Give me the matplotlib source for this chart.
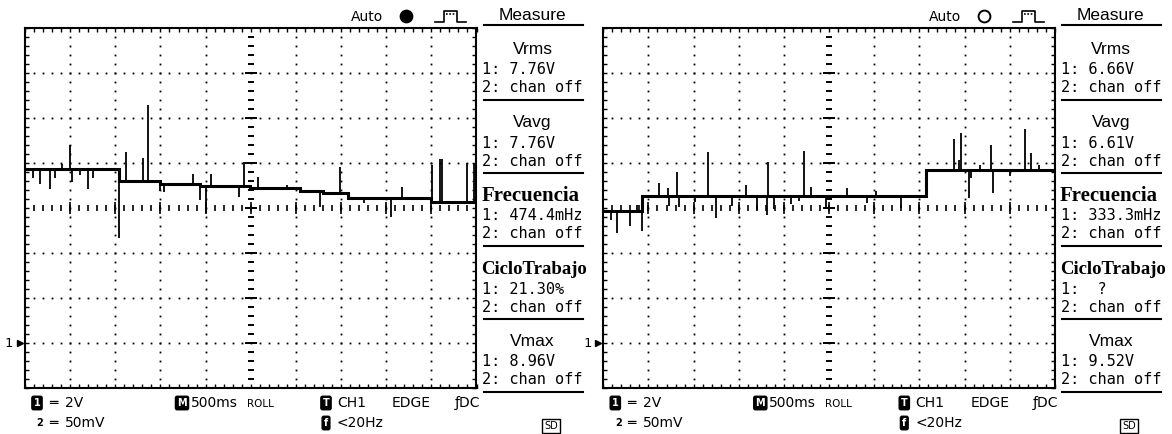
import numpy as np
import matplotlib
matplotlib.use("Agg")
from matplotlib import pyplot as plt
from matplotlib.transforms import blended_transform_factory

# Values read off the two scope captures (time in s, level in V, 2 V/div, 500 ms/div)
# left capture
left_step_t = [0.0, 1.04, 1.50, 1.94, 2.49, 3.05, 3.30, 3.58, 4.50]
left_step_v = [7.73, 7.23, 7.10, 6.99, 6.89, 6.77, 6.70, 6.44, 6.30]
left_spike_t = [0.089, 0.166, 0.277, 0.333, 0.41, 0.499, 0.515, 0.61, 0.70, 0.754,
                1.042, 1.12, 1.31, 1.364, 1.497, 1.541, 1.863, 1.94, 2.007, 2.062,
                2.37, 2.428, 2.583, 2.905, 3.27, 3.49, 3.75, 4.05, 4.18, 4.51,
                4.60, 4.617, 4.90, 4.967]
left_spike_v = [7.35, 7.08, 6.86, 7.35, 7.97, 8.81, 7.18, 7.48, 6.86, 7.35,
                4.68, 8.50, 8.24, 10.59, 6.77, 6.74, 7.52, 6.37, 5.80, 7.52,
                6.52, 8.07, 7.39, 7.04, 6.07, 7.85, 6.24, 5.63, 6.96, 7.92,
                8.19, 8.19, 8.01, 8.01]
left_meas = ["7.76V", "7.76V", "474.4mHz", "21.30%", "8.96V"]

# right capture
right_step_t = [0.0, 0.431, 3.577]
right_step_v = [5.88, 6.55, 7.72]
right_spike_t = [0.082, 0.155, 0.295, 0.37, 0.431, 0.616, 0.719, 0.732, 0.819, 0.841,
                 1.014, 1.161, 1.243, 1.42, 1.579, 1.697, 1.808, 1.819, 1.892, 2.084,
                 2.168, 2.223, 2.305, 2.471, 2.699, 2.925, 3.017, 3.30, 3.879, 3.938,
                 3.965, 4.049, 4.075, 4.167, 4.289, 4.314, 4.499, 4.673, 4.739, 4.83]
right_spike_v = [5.48, 4.92, 5.23, 6.15, 4.99, 7.14, 6.89, 6.12, 7.60, 6.04,
                 6.29, 8.49, 5.56, 6.10, 7.04, 5.92, 5.70, 8.07, 5.97, 6.19,
                 6.32, 8.56, 6.96, 5.97, 6.89, 6.22, 6.78, 6.00, 9.07, 8.15,
                 9.36, 6.44, 7.35, 7.92, 8.81, 6.67, 7.44, 9.52, 8.47, 7.92]
right_meas = ["6.66V", "6.61V", "333.3mHz", " ?", "9.52V"]

meas_names = ["Vrms", "Vavg", "Frecuencia", "CicloTrabajo", "Vmax"]
meas_serif = [False, False, True, True, False]

W, H = 1172, 434
GT, GW, GH = 28.3, 451.5, 360.0
T_END, V_MIN, V_MAX = 5.0, -2.0, 14.0

fig = plt.figure(figsize=(W / 100, H / 100), dpi=100)
fig.patch.set_facecolor("white")

# overlay in pixel units for the on-screen labels
ov = fig.add_axes([0, 0, 1, 1])
ov.set_xlim(0, W)
ov.set_ylim(H, 0)
ov.axis("off")

mono = "DejaVu Sans Mono"
sans = "Liberation Sans"


def badge(x, y, ch):
    ov.text(x, y, ch, color="white", fontsize=7, fontweight="bold", ha="center",
            va="center", family="DejaVu Sans",
            bbox=dict(boxstyle="round,pad=0.18", fc="black", ec="black"))


def draw_panel(x0, step_t, step_v, sp_t, sp_v, vals, filled):
    xr = x0 + GW
    ax = fig.add_axes([x0 / W, 1 - (GT + GH) / H, GW / W, GH / H])
    ax.set_xlim(0, T_END)
    ax.set_ylim(V_MIN, V_MAX)

    # dotted graticule
    for t in np.arange(0.5, T_END, 0.5):
        if abs(t - 2.5) < 1e-6:
            continue
        vv = np.arange(V_MIN + 0.4, V_MAX, 0.4)
        ax.plot(np.full_like(vv, t), vv, ls="none", marker="s", ms=1.3,
                color="black", mew=0)
    for v in np.arange(V_MIN + 2, V_MAX, 2):
        if abs(v - 6) < 1e-6:
            continue
        tt = np.arange(0.1, T_END, 0.1)
        ax.plot(tt, np.full_like(tt, v), ls="none", marker="s", ms=1.3,
                color="black", mew=0)
    # centre cross with tick marks
    tt = np.arange(0.1, T_END, 0.1)
    ax.plot(tt, np.full_like(tt, 6.0), ls="none", marker="|", ms=5, mew=1.2, color="black")
    tm = np.arange(0.5, T_END, 0.5)
    ax.plot(tm, np.full_like(tm, 6.0), ls="none", marker="|", ms=8, mew=1.2, color="black")
    vv = np.arange(V_MIN + 0.4, V_MAX, 0.4)
    ax.plot(np.full_like(vv, 2.5), vv, ls="none", marker="_", ms=5, mew=1.4, color="black")
    vm = np.arange(V_MIN + 2, V_MAX, 2)
    ax.plot(np.full_like(vm, 2.5), vm, ls="none", marker="_", ms=8, mew=1.4, color="black")

    # border ticks every minor division
    ax.set_xticks(np.arange(0, T_END + 0.01, 0.1))
    ax.set_yticks(np.arange(V_MIN, V_MAX + 0.01, 0.4))
    ax.tick_params(direction="in", length=3, width=1, top=True, right=True,
                   labelbottom=False, labelleft=False)
    for s in ax.spines.values():
        s.set_linewidth(1.5)

    # trace: stepped baseline plus glitches
    st = np.asarray(step_t)
    sv = np.asarray(step_v)
    ax.plot(np.append(st, T_END), np.append(sv, sv[-1]), drawstyle="steps-post",
            color="black", lw=2.2, solid_joinstyle="miter")
    sp_t = np.asarray(sp_t)
    base = sv[np.searchsorted(st, sp_t, side="right") - 1]
    ax.vlines(sp_t, base, sp_v, color="black", lw=1.3)

    # ground marker
    tr = blended_transform_factory(ax.transAxes, ax.transData)
    ax.text(-0.036, 0, "1", transform=tr, ha="center", va="center", fontsize=9.5,
            family=mono, clip_on=False)
    ax.plot([-0.012], [0], marker=">", ms=5, color="black", transform=tr, clip_on=False)

    # top status line
    ov.text(xr - 126, 17, "Auto", fontsize=10, va="center", family="DejaVu Sans")
    ov.plot([xr - 71], [16], marker="o", ms=8.5, mfc="black" if filled else "white",
            mec="black", mew=1.4)
    ov.plot([xr - 42, xr - 33, xr - 33, xr - 20, xr - 20, xr - 11],
            [22, 22, 11, 11, 22, 22], color="black", lw=1.2)
    ov.plot([xr - 31, xr - 22], [13.5, 13.5], color="black", lw=1.2, ls=(0, (1, 1)))

    # measure panel
    ov.text(xr + 56, 15, "Measure", ha="center", va="center", fontsize=12.5, family=sans)
    ov.plot([xr + 7, xr + 106], [25, 25], color="black", lw=1.5)
    for i, (name, val, serif) in enumerate(zip(meas_names, vals, meas_serif)):
        y = 50 + i * 73
        if serif:
            fs = 15 if len(name) < 11 else 13.5
            ov.text(xr + 5, y, name, ha="left", va="center", fontsize=fs,
                    family="Liberation Serif", fontweight="bold")
        else:
            ov.text(xr + 56, y, name, ha="center", va="center", fontsize=12.5, family=sans)
        ov.text(xr + 6, y + 20, "1: " + val, va="center", fontsize=11, family=mono)
        ov.text(xr + 6, y + 38, "2: chan off", va="center", fontsize=11, family=mono)
        ov.plot([xr + 7, xr + 106], [y + 50, y + 50], color="black", lw=1.5)

    # bottom status lines
    badge(x0 + 12, 403, "1")
    ov.text(x0 + 28, 403, "═", va="center", ha="center", fontsize=10, family=mono)
    ov.text(x0 + 40, 403, "2V", va="center", fontsize=10, family="DejaVu Sans")
    ov.text(x0 + 15, 423, "2", va="center", ha="center", fontsize=7, fontweight="bold",
            family="DejaVu Sans")
    ov.text(x0 + 28, 423, "═", va="center", ha="center", fontsize=10, family=mono)
    ov.text(x0 + 40, 423, "50mV", va="center", fontsize=10, family="DejaVu Sans")
    badge(x0 + 157, 403, "M")
    ov.text(x0 + 166, 403, "500ms", va="center", fontsize=10, family="DejaVu Sans")
    ov.text(x0 + 222, 404, "ROLL", va="center", fontsize=7.5, family="DejaVu Sans")
    badge(x0 + 301, 403, "T")
    ov.text(x0 + 312, 403, "CH1", va="center", fontsize=10, family="DejaVu Sans")
    ov.text(x0 + 367, 403, "EDGE", va="center", fontsize=10, family="DejaVu Sans")
    ov.text(x0 + 430, 403, "ƒDC", va="center", fontsize=10, family="DejaVu Sans")
    badge(x0 + 301, 423, "f")
    ov.text(x0 + 312, 423, "<20Hz", va="center", fontsize=10, family="DejaVu Sans")
    ov.text(x0 + 526, 426, "SD", va="center", ha="center", fontsize=7, family="DejaVu Sans",
            bbox=dict(boxstyle="square,pad=0.2", fc="white", ec="black", lw=1))


draw_panel(25.0, left_step_t, left_step_v, left_spike_t, left_spike_v, left_meas, True)
draw_panel(603.3, right_step_t, right_step_v, right_spike_t, right_spike_v, right_meas, False)

fig.savefig("out.png", dpi=100)
